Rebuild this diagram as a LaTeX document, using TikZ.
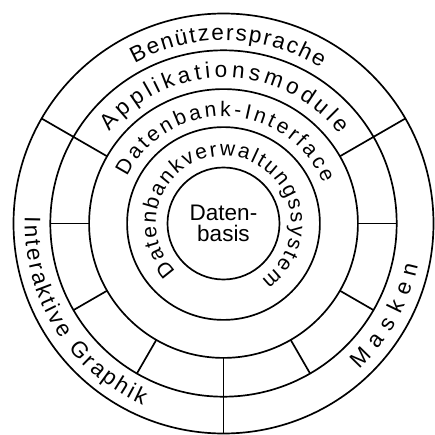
\documentclass[tikz,border=0pt]{standalone}
\usepackage{fontspec}
\setmainfont{Liberation Sans}
\usetikzlibrary{decorations.text}

\tikzset{
  ring/.style={draw, circle, line width=1.2pt, inner sep=0pt, outer sep=0pt, minimum size=#1},
  spoke/.style={line width=1.2pt},
  ringtext/.style={decorate, decoration={text along path, text align=fit to path,
      text={|\fontsize{16}{18}\selectfont|#1}}},
  innertext/.style={decorate, decoration={text along path, text align=fit to path,
      text={|\fontsize{15}{17}\selectfont|#1}}}
}

\begin{document}
\begin{tikzpicture}
  \useasboundingbox (-5.5875,-5.2875) rectangle (5.2875,5.5875);

  % --- Ringe (von innen nach aussen) ---
  \node[ring=2.8cm, align=center, font=\fontsize{16}{15}\selectfont] (basis) at (0,0) {Daten-\\basis};
  \node[ring=4.82cm] (dbvs) at (basis.center) {};
  \node[ring=6.72cm] (interface) at (basis.center) {};
  \node[ring=8.66cm] (module) at (basis.center) {};
  \node[ring=10.5cm] (sprache) at (basis.center) {};

  % --- Trennlinien ---
  \foreach \a in {0,180,210,240,300,330}
    \draw[spoke] (interface.\a) -- (module.\a);
  \foreach \a in {30,150,270}
    \draw[spoke] (interface.\a) -- (sprache.\a);

  % --- Beschriftung entlang der Ringe ---
  \path[ringtext=Benützersprache] (119:4.58) arc[start angle=119, end angle=58, radius=4.58];
  \path[ringtext=Applikationsmodule] (141:3.65) arc[start angle=141, end angle=37.5, radius=3.65];
  \path[innertext=Datenbank-Interface] (154:2.68) arc[start angle=154, end angle=22, radius=2.68];
  \path[innertext=Datenbankverwaltungssystem] (225:1.69) arc[start angle=225, end angle=-56, radius=1.69];
  \path[ringtext=Interaktive Graphik] (178:4.97) arc[start angle=178, end angle=246, radius=4.97];
  \path[ringtext=Masken] (-47:4.97) arc[start angle=-47, end angle=-12, radius=4.97];
\end{tikzpicture}
\end{document}
